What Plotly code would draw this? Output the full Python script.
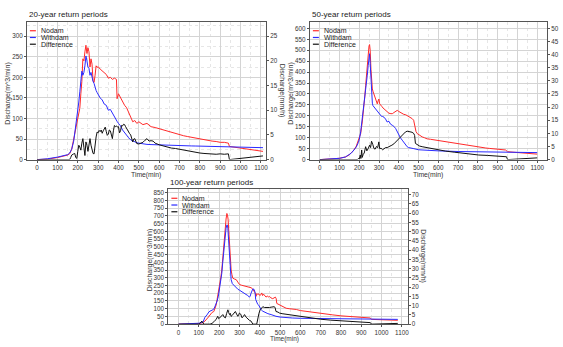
import plotly.graph_objects as go

W, H = 563, 347

# ---------------- 20-year return period ----------------
t20 = [0, 50, 100, 130, 150, 160, 170, 180, 190, 200, 205, 210, 215, 220, 225,
       230, 235, 240, 245, 250, 255, 260, 265, 270, 275, 280, 285, 290, 295, 300,
       310, 320, 330, 340, 350, 360, 370, 380, 390, 393, 400, 410, 420, 430, 440,
       450, 460, 470, 480, 490, 500, 520, 540, 560, 580, 600, 620, 640, 660, 680,
       700, 720, 740, 760, 780, 800, 820, 840, 860, 880, 900, 920, 940, 945, 1110]
nodam20 = [0, 1, 5, 8, 11, 14, 25, 50, 75, 100, 110, 125, 160, 190, 245,
           240, 262, 278, 258, 272, 262, 225, 245, 232, 192, 188, 205, 228, 224, 226,
           220, 215, 210, 207, 198, 200, 195, 198, 195, 148, 160, 150, 140, 132, 126,
           115, 100, 92, 95, 88, 92, 85, 88, 80, 78, 75, 72, 70, 66, 63,
           60, 58, 56, 54, 52, 50, 48, 46, 45, 44, 42, 42, 40, 32, 20]
withdam20 = [0, 2, 6, 9, 12, 16, 25, 45, 80, 118, 140, 165, 200, 215, 205,
             212, 228, 252, 240, 225, 222, 205, 212, 198, 190, 185, 175, 168, 163, 158,
             150, 145, 135, 132, 120, 122, 112, 105, 95, 93, 88, 82, 72, 65, 58,
             53, 48, 45, 43, 41, 40, 38, 37, 36.5, 36, 35.5, 35, 34.8, 34.5, 34.2,
             34, 33.8, 33.5, 33.2, 33, 32.8, 32.5, 32.2, 32, 31.8, 31.6, 31.4, 31.2, 31, 29]
td20 = [0, 160, 165, 170, 180, 185, 190, 195, 200, 205, 210, 215, 220, 225, 230,
        235, 240, 245, 250, 255, 260, 265, 270, 275, 280, 285, 290, 295, 300, 305,
        310, 315, 320, 325, 330, 335, 340, 345, 350, 355, 360, 365, 370, 375, 380,
        385, 390, 395, 400, 405, 410, 415, 420, 425, 430, 435, 440, 445, 450, 455,
        460, 465, 470, 475, 480, 485, 490, 500, 510, 520, 530, 540, 550, 560, 570,
        580, 600, 620, 640, 660, 680, 700, 720, 740, 760, 780, 800, 820, 840, 860,
        880, 900, 920, 940, 945, 1110]
diff20 = [0, 0, 5, 11, 14, 15, 5, 3, 20, 35, 30, 23, 40, 51, 30,
          10, 43, 35, 20, 35, 51, 35, 25, 15, 14, 45, 55, 67, 65, 71,
          68, 72, 64, 70, 75, 79, 68, 59, 62, 72, 70, 58, 51, 70, 83,
          80, 82, 79, 80, 65, 70, 83, 82, 86, 85, 80, 75, 72, 68, 63,
          60, 48, 43, 50, 51, 45, 39, 38, 40, 42, 47, 51, 45, 46, 45,
          40, 36, 33, 31, 28, 27, 25, 23, 22, 20, 18, 16, 15, 14, 13,
          13, 14, 13, 14, 0, 9]

# ---------------- 50-year return period ----------------
t50 = [0, 50, 100, 130, 148, 160, 173, 185, 195, 200, 207, 215, 220, 224, 228,
       232, 236, 240, 245, 249, 252, 255, 259, 262, 266, 270, 274, 278, 283, 287,
       291, 295, 299, 303, 308, 315, 320, 325, 330, 335, 341, 350, 360, 367, 375,
       385, 392, 400, 410, 417, 425, 435, 442, 450, 460, 468, 475, 481, 487, 493,
       505, 518, 530, 543, 560, 580, 600, 620, 640, 660, 680, 700, 720, 740, 760,
       780, 800, 820, 840, 860, 880, 900, 920, 940, 950, 1100]
nodam50 = [0, 2, 6, 12, 21, 32, 44, 62, 89, 100, 119, 172, 210, 247, 290,
           338, 385, 428, 480, 519, 526, 500, 413, 370, 323, 310, 300, 290, 270, 262,
           255, 268, 277, 255, 247, 242, 236, 232, 228, 222, 217, 212, 210, 210, 215,
           222, 225, 220, 214, 210, 207, 205, 202, 198, 192, 187, 180, 149, 128, 119,
           110, 104, 100, 95, 93, 90, 88, 84, 80, 78, 74, 71, 68, 65, 62,
           60, 58, 56, 53, 51, 49, 47, 46, 44, 36, 25]
tw50 = [0, 50, 100, 130, 148, 160, 173, 185, 195, 200, 207, 215, 220, 224, 228,
        232, 236, 240, 245, 249, 252, 255, 257, 262, 266, 269, 275, 283, 290, 299,
        305, 312, 318, 325, 333, 341, 350, 358, 367, 375, 384, 390, 400, 408, 417,
        425, 433, 442, 450, 460, 476, 500, 550, 600, 700, 800, 900, 1000, 1100]
withdam50 = [0, 2, 6, 12, 21, 30, 44, 58, 78, 92, 127, 187, 215, 240, 275,
             308, 345, 383, 430, 473, 484, 440, 398, 277, 258, 247, 240, 232, 222, 210,
             205, 198, 197, 194, 185, 172, 175, 162, 157, 152, 142, 130, 112, 100, 89,
             78, 68, 59, 55, 52, 50, 45, 42, 40, 37, 35, 34, 33, 32]
td50 = [0, 190, 195, 200, 205, 208, 212, 215, 220, 225, 232, 238, 245, 252, 257,
        262, 268, 274, 280, 287, 293, 299, 303, 310, 318, 325, 333, 341, 350, 358,
        365, 375, 383, 392, 400, 409, 417, 425, 433, 442, 450, 459, 467, 476, 480,
        484, 490, 493, 505, 518, 540, 569, 600, 636, 680, 720, 760, 804, 850, 888,
        920, 945, 950, 1100]
diff50 = [0, 0, 5, 3, 21, 5, 44, 10, 25, 30, 59, 40, 50, 66, 55,
          84, 70, 51, 48, 60, 55, 81, 50, 52, 45, 52, 55, 55, 58, 60,
          66, 72, 80, 88, 95, 105, 112, 120, 126, 130, 128, 127, 125, 119, 110,
          74, 70, 66, 62, 59, 55, 51, 46, 39, 34, 29, 25, 21, 19, 17,
          15, 13, 0, 8]

# ---------------- 100-year return period ----------------
t100 = [0, 50, 100, 120, 130, 144, 150, 161, 165, 174, 180, 185, 190, 196, 202,
        208, 213, 217, 221, 226, 230, 234, 238, 241, 244, 248, 251, 255, 259, 263,
        267, 275, 284, 292, 300, 310, 318, 325, 333, 341, 349, 357, 365, 370, 374,
        378, 382, 386, 390, 395, 400, 405, 410, 414, 418, 424, 431, 437, 442, 448,
        455, 464, 470, 477, 481, 484, 490, 500, 510, 520, 530, 545, 562, 580, 600,
        620, 650, 680, 700, 730, 760, 800, 830, 860, 900, 930, 945, 950, 1080]
nodam100 = [0, 1, 4, 10, 20, 41, 50, 72, 76, 82, 100, 123, 160, 200, 247,
            300, 350, 420, 494, 560, 617, 680, 716, 705, 679, 580, 494, 410, 350, 320,
            298, 292, 288, 272, 257, 252, 250, 247, 245, 240, 238, 236, 228, 220, 210,
            200, 180, 198, 192, 196, 185, 190, 202, 185, 195, 185, 175, 182, 176, 180,
            170, 165, 172, 175, 165, 134, 130, 124, 118, 108, 103, 100, 99, 95, 88,
            84, 78, 72, 68, 64, 60, 54, 51, 48, 42, 40, 40, 31, 25]
tw100 = [0, 50, 100, 120, 130, 140, 150, 160, 165, 175, 185, 190, 196, 202, 208,
         213, 217, 221, 226, 230, 234, 238, 241, 243, 247, 251, 255, 259, 265, 275,
         283, 292, 300, 308, 316, 325, 333, 341, 349, 353, 357, 362, 366, 372, 377,
         380, 385, 390, 395, 400, 407, 415, 423, 431, 440, 456, 470, 480, 500, 530,
         560, 600, 650, 700, 800, 900, 1000, 1080]
withdam100 = [0, 2, 6, 12, 45, 60, 80, 88, 90, 100, 130, 150, 180, 226, 275,
              329, 390, 453, 520, 576, 620, 642, 640, 617, 520, 412, 340, 288, 262, 247,
              236, 226, 220, 213, 206, 200, 196, 185, 175, 182, 200, 218, 228, 225, 205,
              160, 135, 128, 123, 108, 93, 84, 78, 72, 68, 62, 55, 51, 46, 41,
              40, 38, 37, 36, 34, 33, 32, 31]
td100 = [0, 100, 105, 110, 115, 120, 125, 155, 165, 177, 185, 193, 198, 202, 210,
         218, 225, 231, 237, 243, 247, 251, 255, 259, 263, 267, 273, 280, 286, 292,
         296, 300, 306, 313, 319, 325, 333, 341, 349, 357, 362, 366, 385, 390, 396,
         402, 408, 415, 423, 431, 440, 448, 456, 464, 472, 476, 480, 490, 497, 510,
         530, 560, 600, 650, 700, 750, 800, 850, 900, 930, 945, 950, 1080]
diff100 = [0, 0, 5, 15, 20, 8, 0, 0, 5, 20, 30, 51, 35, 40, 55,
           62, 45, 41, 70, 93, 75, 62, 70, 50, 55, 62, 70, 82, 65, 51,
           60, 72, 65, 41, 50, 62, 45, 31, 25, 20, 10, 0, 0, 41, 70,
           93, 100, 113, 108, 107, 110, 108, 110, 112, 113, 105, 82, 78, 72, 68,
           64, 60, 52, 42, 32, 26, 21, 17, 14, 12, 10, 0, 5]

titles = ["20-year return periods", "50-year return periods", "100-year return periods"]
series_names = ["Nodam", "Withdam", "Difference"]
colors = ["#ff2a2a", "#2a2aff", "#111111"]

panels = [
    dict(data=[(t20, nodam20), (t20, withdam20), (td20, diff20)],
         px=(27, 267), py=(22, 161), xr=[-50, 1125], yr=[0, 335], y2r=[0, 27.9], yminor=25),
    dict(data=[(t50, nodam50), (tw50, withdam50), (td50, diff50)],
         px=(311, 549), py=(22, 161), xr=[-50, 1150], yr=[0, 630], y2r=[0, 52.5], yminor=None),
    dict(data=[(t100, nodam100), (tw100, withdam100), (td100, diff100)],
         px=(169, 409), py=(191, 327), xr=[-50, 1128], yr=[0, 872], y2r=[0, 72.8], yminor=None),
]

FONT = "Liberation Sans, Arial, sans-serif"
TICK = 6.3
fig = go.Figure()
layout = dict(width=W, height=H, margin=dict(l=0, r=0, t=0, b=0),
              paper_bgcolor="white", plot_bgcolor="white", showlegend=False,
              font=dict(family=FONT, size=7, color="#333"))
annotations = []
shapes = []


def fx(x):
    return x / W


def fy(y):
    return 1 - y / H


for i, p in enumerate(panels):
    xa = "xaxis" if i == 0 else f"xaxis{i+1}"
    xid = "x" if i == 0 else f"x{i+1}"
    ya_n = 2 * i + 1
    ya = "yaxis" if ya_n == 1 else f"yaxis{ya_n}"
    yid = "y" if ya_n == 1 else f"y{ya_n}"
    y2a = f"yaxis{ya_n+1}"
    y2id = f"y{ya_n+1}"
    for (tx, vy), name, c in zip(p["data"], series_names, colors):
        fig.add_trace(go.Scatter(x=tx, y=vy, mode="lines", name=name,
                                 line=dict(color=c, width=1), xaxis=xid, yaxis=yid))
    # empty trace so that the right-hand (mm/h) axis is drawn
    fig.add_trace(go.Scatter(x=[None], y=[None], mode="lines", xaxis=xid, yaxis=y2id,
                             hoverinfo="skip", showlegend=False))
    x0, x1 = p["px"]
    y0, y1 = p["py"]
    common = dict(showline=True, linecolor="#555", linewidth=1, ticks="outside",
                  ticklen=2, tickcolor="#555", zeroline=False,
                  tickfont=dict(size=TICK, color="#333", family=FONT))
    layout[xa] = dict(domain=[fx(x0), fx(x1)], range=p["xr"], anchor=yid, dtick=100, tick0=0,
                      mirror=True, showgrid=True, gridcolor="#d4d4d4", gridwidth=1,
                      minor=dict(dtick=50, showgrid=True, gridcolor="#e6e6e6", griddash="dot", ticks=""),
                      **common)
    yd = dict(domain=[fy(y1), fy(y0)], range=p["yr"], anchor=xid, dtick=50, tick0=0,
              showgrid=True, gridcolor="#d4d4d4", gridwidth=1, **common)
    if p["yminor"]:
        yd["minor"] = dict(dtick=p["yminor"], showgrid=True, gridcolor="#e6e6e6", griddash="dot", ticks="")
    layout[ya] = yd
    layout[y2a] = dict(overlaying=yid, side="right", anchor=xid, range=p["y2r"], dtick=5, tick0=0,
                       showgrid=False, **common)
    # titles
    annotations.append(dict(x=fx(x0), y=fy(y0 - 7), xref="paper", yref="paper", text=titles[i],
                            showarrow=False, xanchor="left", yanchor="middle",
                            font=dict(size=8, color="#222")))
    annotations.append(dict(x=fx(x0 - 19), y=fy((y0 + y1) / 2 + 3), xref="paper", yref="paper",
                            text="Discharge(m^3/min)", textangle=-90, showarrow=False,
                            xanchor="center", yanchor="middle", font=dict(size=7, color="#333")))
    if i < 2:
        annotations.append(dict(x=fx((x0 + x1) / 2), y=fy(y1 + 16), xref="paper", yref="paper",
                                text="Time(min)", showarrow=False, xanchor="center", yanchor="middle",
                                font=dict(size=6.8, color="#333")))
    else:
        annotations.append(dict(x=fx((x0 + x1) / 2 - 3), y=0, xref="paper", yref="paper",
                                text="Time(min)", showarrow=False, xanchor="center", yanchor="bottom",
                                font=dict(size=6.5, color="#333"), borderpad=0))
    if x1 + 16 < W - 4:
        annotations.append(dict(x=fx(x1 + 16), y=fy((y0 + y1) / 2), xref="paper", yref="paper",
                                text="Discharge(mm/h)", textangle=90, showarrow=False,
                                xanchor="center", yanchor="middle", font=dict(size=7, color="#333")))
    # legend (manual, short line samples)
    for k, (name, c) in enumerate(zip(series_names, colors)):
        ly = y0 + 9 + k * 6.8
        shapes.append(dict(type="line", xref="paper", yref="paper",
                           x0=fx(x0 + 3), x1=fx(x0 + 9), y0=fy(ly), y1=fy(ly),
                           line=dict(color=c, width=1.2)))
        annotations.append(dict(x=fx(x0 + 12), y=fy(ly), xref="paper", yref="paper", text=name,
                                showarrow=False, xanchor="left", yanchor="middle",
                                font=dict(size=7, color="#222")))

layout["annotations"] = annotations
layout["shapes"] = shapes
fig.update_layout(**layout)
fig.write_html("out.html", config={"displayModeBar": False},
               post_script="document.body.style.margin='0';document.body.style.overflow='hidden';")
